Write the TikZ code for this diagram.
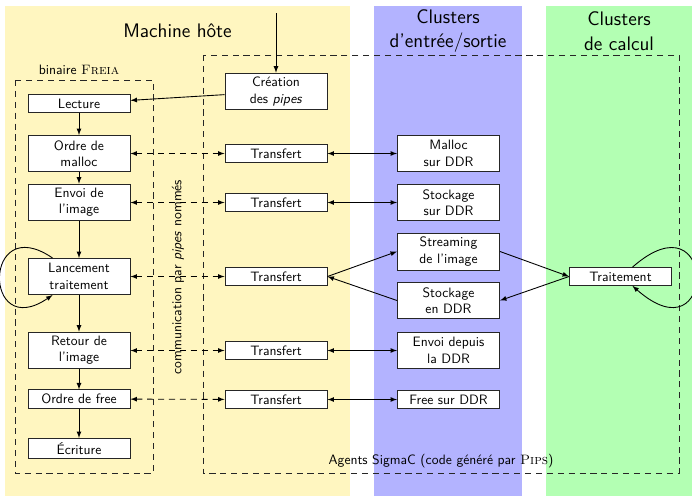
\documentclass[tikz,border=0pt]{standalone}
\usepackage{tikz}
\usetikzlibrary{arrows}

\definecolor{hostbg}{RGB}{255,246,192}
\definecolor{iobg}{RGB}{179,179,255}
\definecolor{calcbg}{RGB}{179,255,179}

\begin{document}
\begin{tikzpicture}[x=0.735pt,y=-0.735pt,>=latex,font=\sffamily,
    box/.style={draw=black!85,line width=0.7pt,fill=white,text width=69pt,align=center,inner sep=3pt},
    tallbox/.style={box,minimum height=26.5pt},
    title/.style={font=\sffamily\Large,align=center},
    dashbox/.style={draw=black!85,semithick,dash pattern=on 4.5pt off 3.5pt},
    pipe/.style={<->,line width=0.65pt,dash pattern=on 4.5pt off 3.5pt},
    every path/.style={line width=0.65pt}]

    \useasboundingbox (0,0) rectangle (692,496);

    % les trois zones
    \fill[hostbg] (5,6) rectangle (350,496);
    \fill[iobg] (374,6) rectangle (522,496);
    \fill[calcbg] (546,6) rectangle (692,496);

    \node[title] (hote) at (177.5,31) {Machine hôte};
    \node[title] (io) at (448,31) {Clusters\\d'entrée/sortie};
    \node[title] (calcul) at (619,31) {Clusters\\de calcul};

    % cadres en pointillés
    \draw[dashbox] (15,80) rectangle (153,473);
    \draw[dashbox] (203,55) rectangle (679,473);
    \node[above] (freialab) at (79,80) {binaire \textrm{\textsc{Freia}}};
    \node[above] (agentslab) at (441,473) {Agents SigmaC (code généré par \textrm{\textsc{Pips}})};
    \node[rotate=90] (comm) at (178,277) {communication par \textit{pipes} nommés};

    % binaire Freia
    \node[box] (lecture) at (79,103.5) {Lecture};
    \node[tallbox] (malloc) at (79,153.5) {Ordre de\\malloc};
    \node[tallbox] (envoi) at (79,202.5) {Envoi de\\l'image};
    \node[tallbox] (lancement) at (79,276.5) {Lancement\\traitement};
    \node[tallbox] (retour) at (79,350.5) {Retour de\\l'image};
    \node[box] (free) at (79,399) {Ordre de free};
    \node[box] (ecriture) at (79,448.5) {Écriture};

    % agents
    \node[tallbox] (creation) at (276,91.5) {Création\\des \textit{pipes}};
    \node[box] (transA) at (276,153.5) {Transfert};
    \node[box] (transB) at (276,202.5) {Transfert};
    \node[box] (transC) at (276,276.5) {Transfert};
    \node[box] (transD) at (276,350.5) {Transfert};
    \node[box] (transE) at (276,399.5) {Transfert};

    \node[tallbox] (mallocddr) at (448.5,153.5) {Malloc\\sur DDR};
    \node[tallbox] (stockddr) at (448.5,202.5) {Stockage\\sur DDR};
    \node[tallbox] (streaming) at (448.5,251.5) {Streaming\\de l'image};
    \node[tallbox] (stockenddr) at (448.5,300.5) {Stockage\\en DDR};
    \node[tallbox] (envoiddr) at (448.5,350.5) {Envoi depuis\\la DDR};
    \node[box] (freeddr) at (448.5,399.5) {Free sur DDR};

    \node[box] (traitement) at (620.5,276.5) {Traitement};

    % fleches
    \coordinate (depart) at (276,13);
    \draw[->] (depart) -- (creation);
    \draw[->] (creation) -- (lecture);
    \draw[->] (lecture) -- (malloc);
    \draw[->] (malloc) -- (envoi);
    \draw[->] (envoi) -- (lancement);
    \draw[->] (lancement) -- (retour);
    \draw[->] (retour) -- (free);
    \draw[->] (free) -- (ecriture);
    \draw[->] (lancement.145) .. controls +(-70,-48) and +(-70,48) .. (lancement.215);

    \draw[pipe] (malloc) -- (transA);
    \draw[pipe] (envoi) -- (transB);
    \draw[pipe] (lancement) -- (transC);
    \draw[pipe] (retour) -- (transD);
    \draw[pipe] (free) -- (transE);

    \draw[<->] (transA) -- (mallocddr);
    \draw[<->] (transB) -- (stockddr);
    \draw[->] (transC.east) -- (streaming.west);
    \draw[->] (stockenddr.west) -- (transC.east);
    \draw[<->] (transD) -- (envoiddr);
    \draw[<->] (transE) -- (freeddr);

    \draw[->] (streaming.east) -- (traitement.west);
    \draw[->] (traitement.west) -- (stockenddr.east);
    \draw[->] (traitement.38) .. controls +(85,-75) and +(85,75) .. (traitement.-38);

\end{tikzpicture}
\end{document}
